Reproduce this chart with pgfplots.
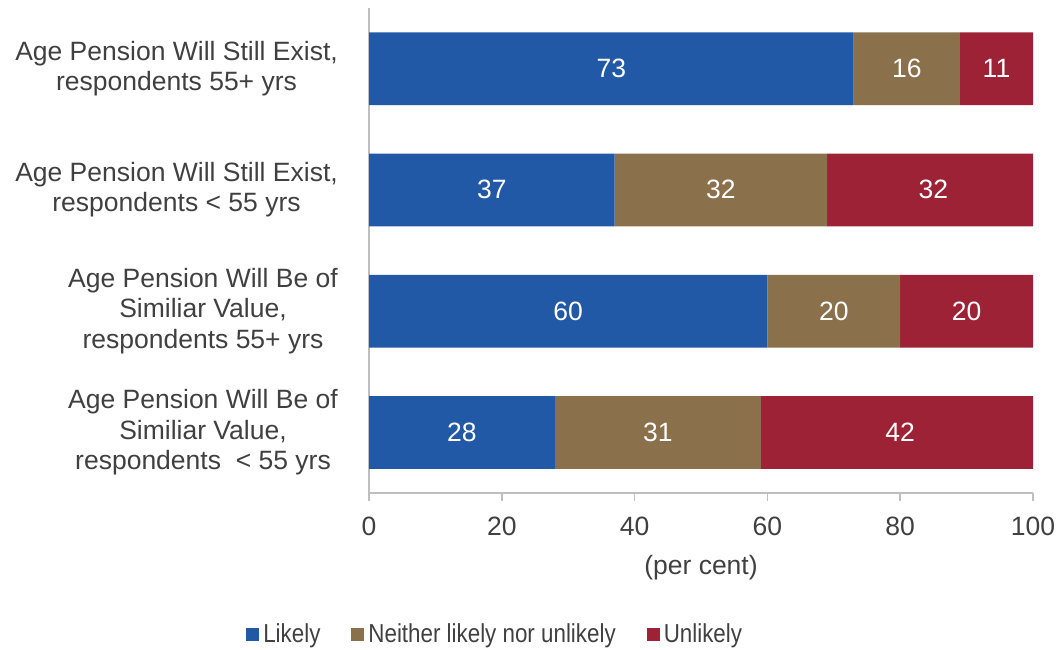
\documentclass[border=0pt]{standalone}
\usepackage{pgfplots}
\pgfplotsset{compat=1.18}
\usepackage{pgfplotstable}
\usepackage{fontspec}
\setmainfont{Liberation Sans}
\newfontfamily\legendfamily[FakeStretch=0.86]{Liberation Sans}

\definecolor{likelyblue}{HTML}{2259A7}
\definecolor{neitherbrown}{HTML}{8B714B}
\definecolor{unlikelyred}{HTML}{9E2235}
\definecolor{textgray}{HTML}{404040}
\definecolor{axisgray}{HTML}{BFBFBF}
\newcommand{\chartfont}{\fontsize{26.5pt}{30.5pt}\selectfont}
\newcommand{\legendfont}{\legendfamily\fontsize{26pt}{30pt}\selectfont}

% Survey responses (per cent), one row per question/age group
\pgfplotstableread{
cat likely neither unlikely
0   73     16      11
1   37     32      32
2   60     20      20
3   28     31      42
}\survey
% centre of each segment, for the value labels
\pgfplotstablecreatecol[create col/expr={\thisrow{likely}/2}]{mlikely}\survey
\pgfplotstablecreatecol[create col/expr={\thisrow{likely}+\thisrow{neither}/2}]{mneither}\survey
\pgfplotstablecreatecol[create col/expr={\thisrow{likely}+\thisrow{neither}+\thisrow{unlikely}/2}]{munlikely}\survey

\pgfplotsset{
  frame/.style={
    at={(369pt,157pt)}, anchor=south west,
    scale only axis, width=664pt, height=485pt,
    xmin=0, xmax=100, ymin=-0.5, ymax=3.5, y dir=reverse,
  },
  seglabel/.style={
    only marks, mark=none, nodes near coords,
    point meta=explicit symbolic,
    nodes near coords style={font=\chartfont, text=white, anchor=center},
  },
}

\begin{document}
\begin{tikzpicture}
\path[use as bounding box] (0,0) rectangle (1060pt,650pt);
\begin{axis}[
  frame,
  xbar stacked, bar width=0.6,
  axis x line*=bottom, axis y line*=left,
  axis line style={draw=axisgray, line width=1.5pt, -},
  xtick={0,20,...,100},
  tick align=outside,
  major tick length=8pt,
  xtick style={draw=axisgray, line width=1.5pt},
  ytick={0,1,2,3},
  ytick style={draw=none},
  yticklabels={
    {Age Pension Will Still Exist,\\respondents 55+ yrs},
    {Age Pension Will Still Exist,\\respondents < 55 yrs},
    {Age Pension Will Be of\\Similiar Value,\\respondents 55+ yrs},
    {Age Pension Will Be of\\Similiar Value,\\respondents~~< 55 yrs}},
  yticklabel style={align=center, font=\chartfont, text=textgray, inner sep=0pt,
    xshift=-23pt},
  xticklabel style={font=\chartfont, text=textgray, yshift=-12pt},
  /pgf/number format/assume math mode=true,
  xlabel={(per cent)},
  xlabel style={font=\chartfont, text=textgray, yshift=-13pt},
  legend columns=3,
  legend cell align=left,
  legend image code/.code={\fill[#1] (0pt,-6.5pt) rectangle (13pt,6.5pt); \path (15pt,0pt);},
  legend style={draw=none, fill=none, font=\legendfont, text=textgray,
    at={(axis description cs:0.19,-0.291)}, anchor=center,
    /tikz/every even column/.append style={column sep=29pt}},
]
\addplot[fill=likelyblue, draw=none] table[x=likely, y=cat] {\survey};
\addplot[fill=neitherbrown, draw=none] table[x=neither, y=cat] {\survey};
\addplot[fill=unlikelyred, draw=none] table[x=unlikely, y=cat] {\survey};
\legend{Likely, Neither likely nor unlikely, Unlikely}
\end{axis}
% value labels in the middle of each segment
\begin{axis}[frame, hide axis, clip=false]
\addplot[seglabel] table[x=mlikely, y=cat, meta=likely] {\survey};
\addplot[seglabel] table[x=mneither, y=cat, meta=neither] {\survey};
\addplot[seglabel] table[x=munlikely, y=cat, meta=unlikely] {\survey};
\end{axis}
\end{tikzpicture}
\end{document}
